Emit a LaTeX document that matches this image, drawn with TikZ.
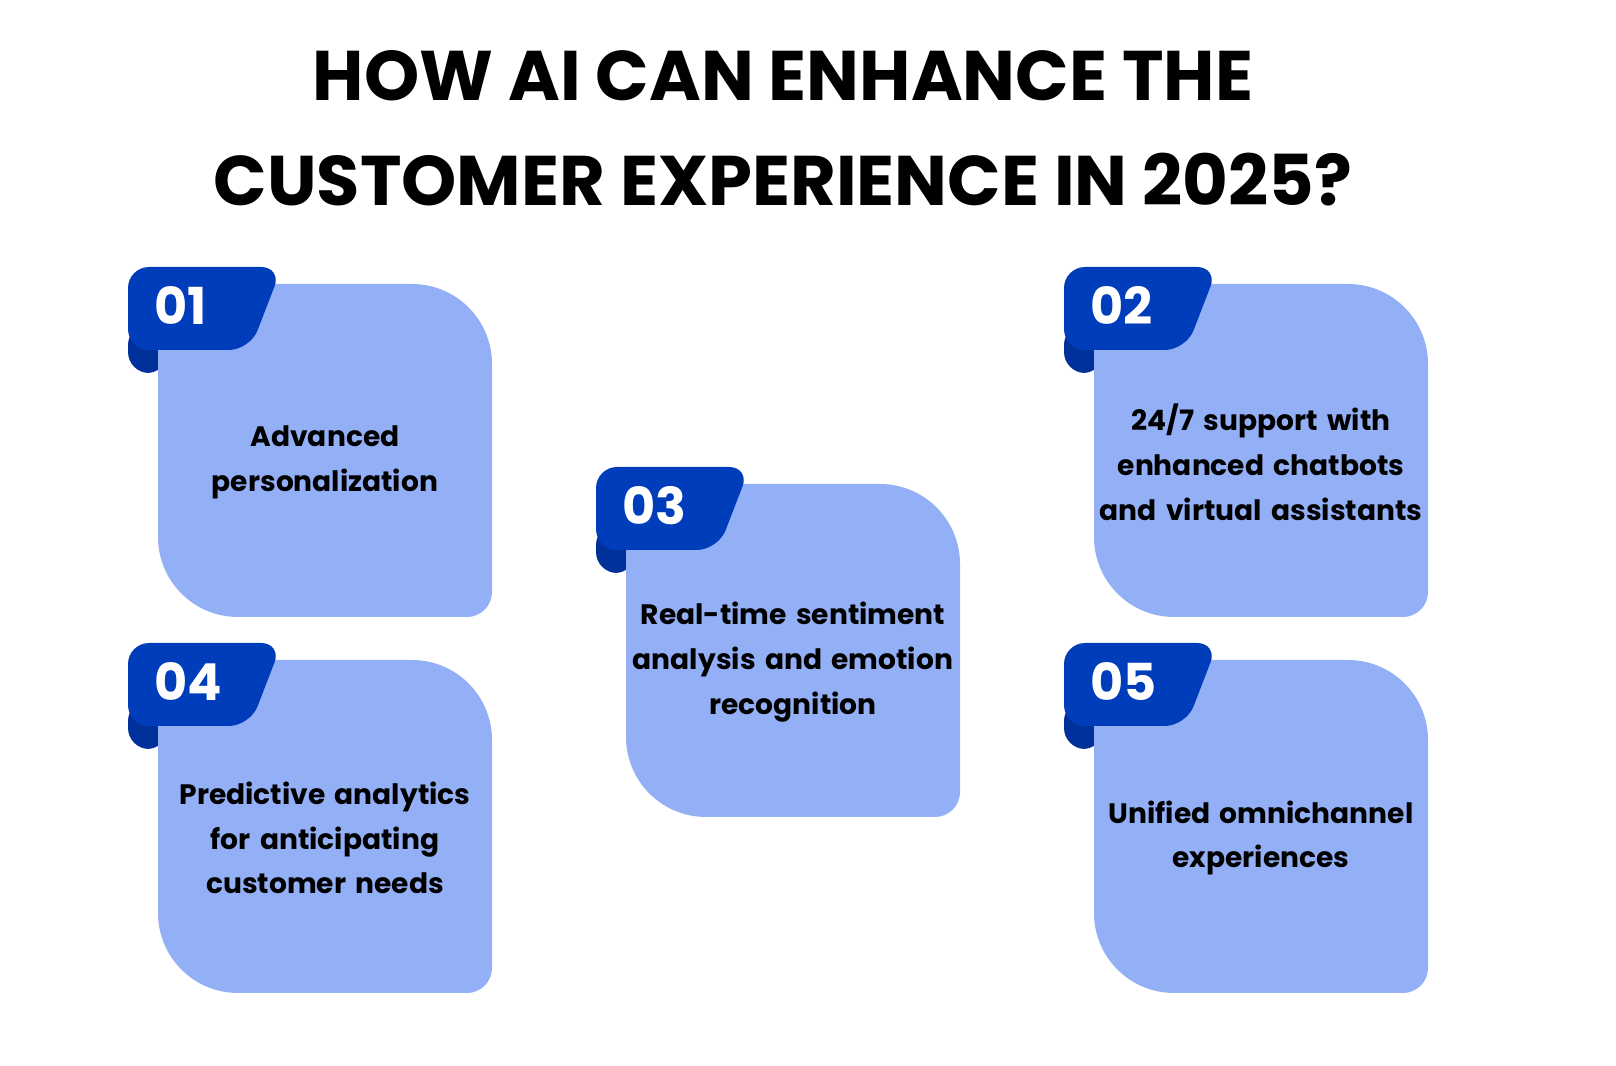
\documentclass[tikz,border=0pt]{standalone}
\usepackage{fontspec}
\setmainfont{Poppins}
\definecolor{cardblue}{HTML}{93B0F7}
\definecolor{badgeblue}{HTML}{003DBB}
\definecolor{tabblue}{HTML}{00309A}

% one card: #1 name, #2 left x, #3 top y, #4 number, #5 text
\newcommand{\aicard}[5]{%
  \fill[tabblue,rounded corners=12] (#2-30,#3-40) -- (#2-30,#3-89) -- (#2+10,#3-89) -- (#2+10,#3-40) -- cycle;
  \fill[cardblue] (#2,#3) -- (#2+254,#3) arc[start angle=90,end angle=0,radius=80]
    -- (#2+334,#3-308) arc[start angle=0,end angle=-90,radius=25]
    -- (#2+80,#3-333) arc[start angle=270,end angle=180,radius=80] -- cycle;
  \fill[badgeblue,rounded corners=12] (#2-30,#3+17) -- (#2+124,#3+17) -- (#2+92,#3-66) -- (#2-30,#3-66) -- cycle;
  \node[numtext] (#1num) at (#2-4,#3-22) {#4};
  \node[cardtext] (#1) at (#2+167,#3-178) {#5};
}

\begin{document}
\begin{tikzpicture}[x=0.02cm,y=0.02cm,
  numtext/.style={anchor=west,text=white,font=\fontsize{29}{32}\selectfont\bfseries,inner sep=0pt},
  cardtext/.style={align=center,text width=7.6cm,font=\fontsize{16}{25.5}\selectfont\bfseries},
  titletext/.style={align=center,font=\fontsize{40}{60}\selectfont\bfseries}]

\useasboundingbox (0,0) rectangle (1616,1065);

% title
\node[titletext] (title) at (783,937) {HOW AI CAN ENHANCE THE\\CUSTOMER EXPERIENCE IN 2025?};

% cards
\aicard{personal}{158}{781}{01}{Advanced\\personalization}
\aicard{support}{1094}{781}{02}{24/7 support with\\enhanced chatbots\\and virtual assistants}
\aicard{sentiment}{626}{581}{03}{Real-time sentiment\\analysis and emotion\\recognition}
\aicard{predict}{158}{405}{04}{Predictive analytics\\for anticipating\\customer needs}
\aicard{omni}{1094}{405}{05}{Unified omnichannel\\experiences}

\end{tikzpicture}
\end{document}
